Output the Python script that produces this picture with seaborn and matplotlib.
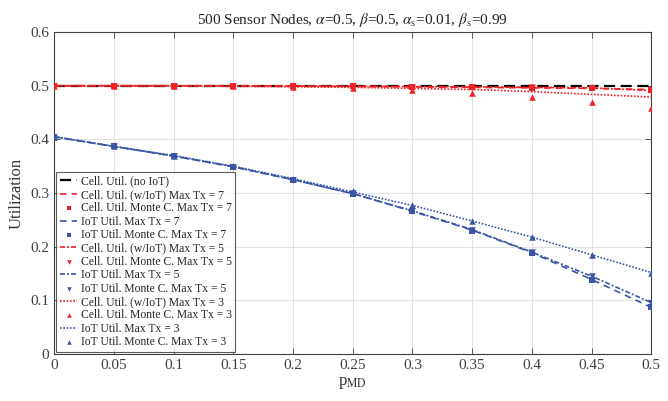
import numpy as np
import pandas as pd
import matplotlib
matplotlib.use("Agg")
import matplotlib.pyplot as plt
import seaborn as sns

# data
p_md = [0, 0.05, 0.1, 0.15, 0.2, 0.25, 0.3, 0.35, 0.4, 0.45, 0.5]

cell_no_iot = [0.5, 0.5, 0.5, 0.5, 0.5, 0.5, 0.5, 0.5, 0.5, 0.5, 0.5]

cell_tx7 = [0.5, 0.5, 0.5, 0.5, 0.4995, 0.499, 0.498, 0.497, 0.496, 0.495, 0.493]
cell_mc7 = [0.5, 0.5, 0.5, 0.5, 0.4995, 0.499, 0.498, 0.497, 0.496, 0.495, 0.492]
iot_tx7 = [0.405, 0.387, 0.369, 0.349, 0.325, 0.299, 0.266, 0.231, 0.189, 0.139, 0.087]
iot_mc7 = [0.405, 0.387, 0.369, 0.349, 0.325, 0.299, 0.266, 0.230, 0.188, 0.138, 0.087]

cell_tx5 = [0.5, 0.5, 0.5, 0.5, 0.4995, 0.499, 0.4985, 0.498, 0.497, 0.496, 0.491]
cell_mc5 = [0.5, 0.5, 0.5, 0.5, 0.4995, 0.499, 0.4985, 0.498, 0.4975, 0.496, 0.491]
iot_tx5 = [0.405, 0.387, 0.369, 0.349, 0.325, 0.299, 0.267, 0.232, 0.190, 0.145, 0.096]
iot_mc5 = [0.405, 0.387, 0.369, 0.349, 0.325, 0.300, 0.267, 0.232, 0.190, 0.145, 0.096]

cell_tx3 = [0.5, 0.5, 0.5, 0.499, 0.498, 0.497, 0.495, 0.493, 0.489, 0.484, 0.479]
cell_mc3 = [0.5, 0.5, 0.5, 0.499, 0.498, 0.496, 0.492, 0.487, 0.479, 0.469, 0.458]
iot_tx3 = [0.405, 0.387, 0.370, 0.350, 0.327, 0.302, 0.277, 0.248, 0.218, 0.185, 0.152]
iot_mc3 = [0.405, 0.387, 0.370, 0.350, 0.327, 0.303, 0.277, 0.248, 0.218, 0.185, 0.151]

red = "#ee2227"
blue = "#3a55a6"

sns.set_style("ticks")
plt.rcParams["font.family"] = ["Liberation Serif", "DejaVu Serif"]
plt.rcParams["mathtext.fontset"] = "stix"

fig, ax = plt.subplots(figsize=(6.68, 4.01), dpi=100)
fig.subplots_adjust(left=0.081, right=0.975, top=0.92, bottom=0.117)

dash7 = (4, 3)
dash5 = (3, 1.2, 1.2, 1.2)
dot3 = (1, 1)

# lines and monte carlo markers, in legend order
series = [
    ("Cell. Util. (no IoT)", cell_no_iot, "line", "black", (5, 2.5), None),
    ("Cell. Util. (w/IoT) Max Tx = 7", cell_tx7, "line", red, dash7, None),
    ("Cell. Util. Monte C. Max Tx = 7", cell_mc7, "mark", red, None, "s"),
    ("IoT Util. Max Tx = 7", iot_tx7, "line", blue, dash7, None),
    ("IoT Util. Monte C. Max Tx = 7", iot_mc7, "mark", blue, None, "s"),
    ("Cell. Util. (w/IoT) Max Tx = 5", cell_tx5, "line", red, dash5, None),
    ("Cell. Util. Monte C. Max Tx = 5", cell_mc5, "mark", red, None, "v"),
    ("IoT Util. Max Tx = 5", iot_tx5, "line", blue, dash5, None),
    ("IoT Util. Monte C. Max Tx = 5", iot_mc5, "mark", blue, None, "v"),
    ("Cell. Util. (w/IoT) Max Tx = 3", cell_tx3, "line", red, dot3, None),
    ("Cell. Util. Monte C. Max Tx = 3", cell_mc3, "mark", red, None, "^"),
    ("IoT Util. Max Tx = 3", iot_tx3, "line", blue, dot3, None),
    ("IoT Util. Monte C. Max Tx = 3", iot_mc3, "mark", blue, None, "^"),
]

for label, vals, kind, color, dash, marker in series:
    df = pd.DataFrame({"p": p_md, "u": vals})
    if kind == "line":
        lw = 1.6 if color == "black" else 1.2
        sns.lineplot(data=df, x="p", y="u", ax=ax, color=color, lw=lw,
                     dashes=False, label=label, zorder=3 if color != "black" else 2)
        ax.lines[-1].set_dashes(dash)
    else:
        sns.scatterplot(data=df, x="p", y="u", ax=ax, color=color, marker=marker,
                        s=22, linewidth=0, label=label, zorder=4)

ax.set_xlim(0, 0.5)
ax.set_ylim(0, 0.6)
ax.set_xticks(p_md)
ax.set_xticklabels(["0", "0.05", "0.1", "0.15", "0.2", "0.25", "0.3", "0.35", "0.4", "0.45", "0.5"])
ax.set_yticks([0, 0.1, 0.2, 0.3, 0.4, 0.5, 0.6])
ax.set_yticklabels(["0", "0.1", "0.2", "0.3", "0.4", "0.5", "0.6"])
ax.grid(True, color="#e3e3e3", lw=0.8)
ax.set_axisbelow(True)
ax.tick_params(direction="in", top=True, right=True, labelsize=11, colors="#404040",
               length=4, width=0.6)
for s in ax.spines.values():
    s.set_color("#404040")
    s.set_linewidth(0.8)

ax.set_xlabel(r"p$_{\rm MD}$", fontsize=12, color="#333333", labelpad=2)
ax.set_ylabel("Utilization", fontsize=12, color="#333333")
ax.set_title(r"500 Sensor Nodes, $\alpha$=0.5, $\beta$=0.5, $\alpha_{\rm s}$=0.01, $\beta_{\rm s}$=0.99",
             fontsize=11, color="#222222", pad=6)

leg = ax.legend(loc="lower left", fontsize=8.4, frameon=True, fancybox=False,
                handlelength=1.5, handletextpad=0.3, labelspacing=0.12,
                borderpad=0.3, borderaxespad=0.2, markerscale=0.7)
leg.get_frame().set_edgecolor("#333333")
leg.get_frame().set_linewidth(0.8)

fig.savefig("out.png", dpi=100)
